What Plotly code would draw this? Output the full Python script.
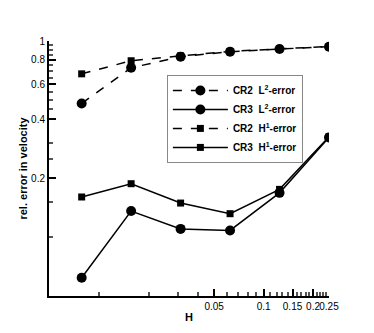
import plotly.graph_objects as go

# mesh size H and relative velocity errors
H = [1/128, 1/64, 1/32, 1/16, 1/8, 1/4]
cr2_l2 = [0.48, 0.73, 0.832, 0.882, 0.91, 0.935]
cr3_l2 = [0.062, 0.1356, 0.110, 0.108, 0.168, 0.322]
cr2_h1 = [0.68, 0.793, 0.84, 0.885, 0.912, 0.937]
cr3_h1 = [0.16, 0.187, 0.149, 0.1315, 0.175, 0.325]

x_ticks = [0.05, 0.1, 0.15, 0.2, 0.25]
x_minor = [0.01, 0.02, 0.03, 0.04, 0.06, 0.07, 0.08, 0.09, 0.11, 0.12, 0.13, 0.14,
           0.16, 0.17, 0.18, 0.19, 0.21, 0.22, 0.23, 0.24]
y_ticks = [0.2, 0.4, 0.6, 0.8, 1]
y_minor = [0.1, 0.15, 0.25, 0.3, 0.45, 0.5, 0.55, 0.65, 0.7, 0.75, 0.85, 0.9, 0.95]

fig = go.Figure()
fig.add_trace(go.Scatter(x=H, y=cr2_l2, name="<b>CR2  L<sup>2</sup>-error</b>", mode="lines+markers",
                         line=dict(color="black", width=1.5, dash="dash"),
                         marker=dict(symbol="circle", size=10, color="black")))
fig.add_trace(go.Scatter(x=H, y=cr3_l2, name="<b>CR3  L<sup>2</sup>-error</b>", mode="lines+markers",
                         line=dict(color="black", width=1.5),
                         marker=dict(symbol="circle", size=10, color="black")))
fig.add_trace(go.Scatter(x=H, y=cr2_h1, name="<b>CR2  H<sup>1</sup>-error</b>", mode="lines+markers",
                         line=dict(color="black", width=1.5, dash="dash"),
                         marker=dict(symbol="square", size=7, color="black")))
fig.add_trace(go.Scatter(x=H, y=cr3_h1, name="<b>CR3  H<sup>1</sup>-error</b>", mode="lines+markers",
                         line=dict(color="black", width=1.5),
                         marker=dict(symbol="square", size=7, color="black")))

# the page body adds an 8px offset, so margins are reduced on the left/top
fig.update_layout(
    width=374, height=333,
    margin=dict(l=41, r=53, t=33, b=45, autoexpand=False),
    paper_bgcolor="white", plot_bgcolor="white",
    font=dict(family="Liberation Sans, Arial, sans-serif", size=10, color="black"),
    legend=dict(x=0.421, y=0.867, xanchor="left", yanchor="top",
                bordercolor="#888888", borderwidth=1, bgcolor="white",
                font=dict(size=10, family="Liberation Sans, Arial, sans-serif"),
                tracegroupgap=0, itemwidth=55),
)
fig.update_xaxes(type="log", range=[-2.306, -0.602], showgrid=False, zeroline=False,
                 showline=True, linecolor="black", linewidth=2, automargin=False,
                 ticks="inside", ticklen=7, tickwidth=1.5, tickcolor="black", tickangle=0,
                 tickmode="array", tickvals=x_ticks, ticktext=["0.05", "0.1", "0.15", "0.2", "0.25"],
                 minor=dict(tickmode="array", tickvals=x_minor, ticks="inside", ticklen=4,
                            tickcolor="#555555", showgrid=False),
                 title=dict(text="<b>H</b>", font=dict(size=11), standoff=2))
fig.update_yaxes(type="log", range=[-1.301, 0], showgrid=False, zeroline=False,
                 showline=True, linecolor="black", linewidth=2, automargin=False,
                 ticks="inside", ticklen=7, tickwidth=1.5, tickcolor="black",
                 tickmode="array", tickvals=y_ticks, ticktext=["0.2", "0.4", "0.6", "0.8", "1"],
                 minor=dict(tickmode="array", tickvals=y_minor, ticks="inside", ticklen=4,
                            tickcolor="#555555", showgrid=False),
                 title=dict(text="<b>rel. error in velocity</b>", font=dict(size=11), standoff=1))

fig.write_html("out.html")
